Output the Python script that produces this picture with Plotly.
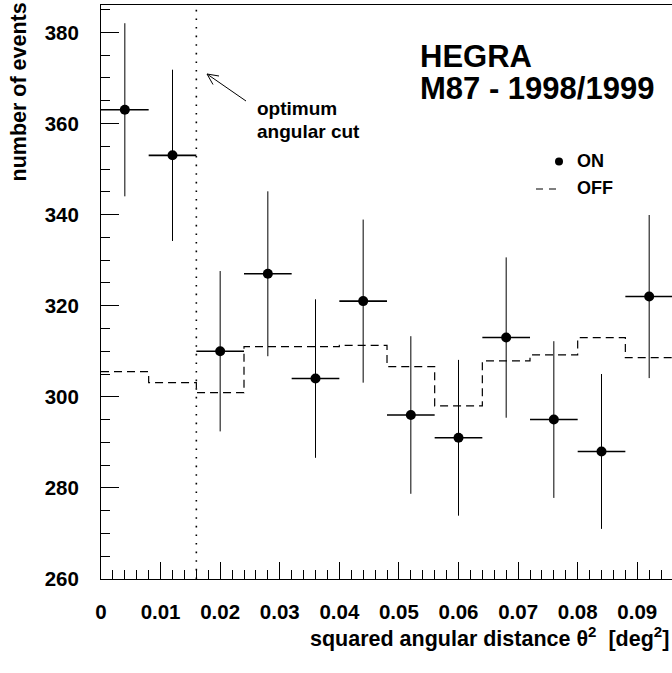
import plotly.graph_objects as go

# ---- data ----
bin_centers = [0.004, 0.012, 0.020, 0.028, 0.036, 0.044, 0.052, 0.060, 0.068, 0.076, 0.084, 0.092]
bin_half_width = 0.004
on_counts = [363, 353, 310, 327, 304, 321, 296, 291, 313, 295, 288, 322]
on_errors = [19.0, 18.8, 17.6, 18.1, 17.4, 17.9, 17.3, 17.1, 17.6, 17.2, 17.0, 17.9]
off_counts = [305.5, 303.1, 300.9, 311.0, 311.0, 311.3, 306.6, 298.0, 307.9, 309.2, 313.0, 308.6]
optimum_cut = 0.016

x_tick_values = [0, 0.01, 0.02, 0.03, 0.04, 0.05, 0.06, 0.07, 0.08, 0.09]
x_tick_labels = ["0", "0.01", "0.02", "0.03", "0.04", "0.05", "0.06", "0.07", "0.08", "0.09"]
y_tick_values = [260, 280, 300, 320, 340, 360, 380]
y_tick_labels = ["260", "280", "300", "320", "340", "360", "380"]

W, H = 672, 673
ML, MR, MT, MB = 101, 0, 5, 94
PW, PH = W - ML - MR, H - MT - MB
FONT = "Liberation Sans, Arial, Helvetica, sans-serif"


def px_x(px):
    return (px - ML) / PW


def px_y(py):
    return (H - MB - py) / PH


fig = go.Figure()

# OFF histogram (dashed steps)
off_x = [c - bin_half_width for c in bin_centers] + [bin_centers[-1] + bin_half_width]
off_y = off_counts + [off_counts[-1]]
fig.add_trace(go.Scatter(
    x=off_x, y=off_y, mode="lines", line_shape="hv",
    line=dict(color="black", width=1.2, dash="8px,5px"),
    name="OFF", showlegend=False, hoverinfo="skip"))

# ON points with error bars
fig.add_trace(go.Scatter(
    x=bin_centers, y=on_counts, mode="markers",
    marker=dict(color="black", size=10, symbol="circle"),
    error_y=dict(type="data", array=on_errors, visible=True, width=0, thickness=1, color="black"),
    error_x=dict(type="constant", value=bin_half_width, visible=True, width=0, thickness=1.6, color="black"),
    name="ON", showlegend=False))

fig.update_layout(
    width=W, height=H,
    margin=dict(l=ML, r=MR, t=MT, b=MB, pad=0),
    paper_bgcolor="white", plot_bgcolor="white",
    font=dict(family=FONT, color="black", size=20, weight="bold"),
    showlegend=False,
)

fig.update_xaxes(
    range=[0, 0.09583], showgrid=False, zeroline=False,
    showline=True, linecolor="black", linewidth=1, mirror=True,
    ticks="inside", ticklen=17, tickwidth=1, tickcolor="black",
    tickvals=x_tick_values, ticktext=x_tick_labels,
    tickfont=dict(family=FONT, size=20.5, weight="bold", color="black"),
    ticklabelstandoff=14,
    minor=dict(dtick=0.002, tick0=0, ticks="inside", ticklen=9, tickwidth=1, tickcolor="black", showgrid=False),
)
fig.update_yaxes(
    range=[260, 386], showgrid=False, zeroline=False,
    showline=True, linecolor="black", linewidth=1, mirror=False,
    ticks="inside", ticklen=18, tickwidth=1, tickcolor="black",
    tickvals=y_tick_values, ticktext=y_tick_labels,
    tickfont=dict(family=FONT, size=20.5, weight="bold", color="black"),
    ticklabelstandoff=17,
    minor=dict(dtick=5, tick0=260, ticks="inside", ticklen=9, tickwidth=1, tickcolor="black", showgrid=False),
)

# optimum angular cut dotted line
fig.add_shape(type="line", xref="x", yref="paper", x0=optimum_cut, x1=optimum_cut, y0=0, y1=1,
              line=dict(color="black", width=1.6, dash="1.6px,7px"))

# arrow (tail near text, open V head near the line)
head = (px_x(207), px_y(74))
tail = (px_x(246), px_y(101))
w1 = (px_x(219), px_y(76))
w2 = (px_x(213), px_y(84.5))
fig.add_shape(type="path", xref="paper", yref="paper",
              path=f"M {tail[0]},{tail[1]} L {head[0]},{head[1]} M {w1[0]},{w1[1]} L {head[0]},{head[1]} L {w2[0]},{w2[1]}",
              line=dict(color="black", width=1))

ann = []


def text(s, x, y, size, xanchor="left", yanchor="middle", angle=0):
    ann.append(dict(text=s, xref="paper", yref="paper", x=x, y=y, xanchor=xanchor, yanchor=yanchor,
                    showarrow=False, textangle=angle,
                    font=dict(family=FONT, size=size, weight="bold", color="black")))


text("HEGRA", px_x(418), px_y(56), 31)
text("M87 - 1998/1999", px_x(418), px_y(88), 31)
text("optimum", px_x(255), px_y(109), 19)
text("angular cut", px_x(255), px_y(132), 19)
text("ON", px_x(575), px_y(161), 18)
text("OFF", px_x(575), px_y(188), 18)
text("squared angular distance θ<sup>2</sup>  [deg<sup>2</sup>]", px_x(671), px_y(637), 21.5, xanchor="right")
text("number of events", px_x(18), px_y(1), 21.5, xanchor="center", yanchor="top", angle=-90)

fig.update_layout(annotations=ann)

# legend symbols
fig.add_shape(type="circle", xref="paper", yref="paper",
              x0=px_x(555), x1=px_x(563), y0=px_y(165.5), y1=px_y(157.5),
              fillcolor="black", line=dict(color="black", width=0))
fig.add_shape(type="line", xref="paper", yref="paper",
              x0=px_x(536), x1=px_x(557), y0=px_y(189), y1=px_y(189),
              line=dict(color="black", width=1.2, dash="7px,6px"))

fig.write_html("out.html", config={"displayModeBar": False},
               post_script="document.body.style.margin='0';document.body.style.overflow='hidden';")
